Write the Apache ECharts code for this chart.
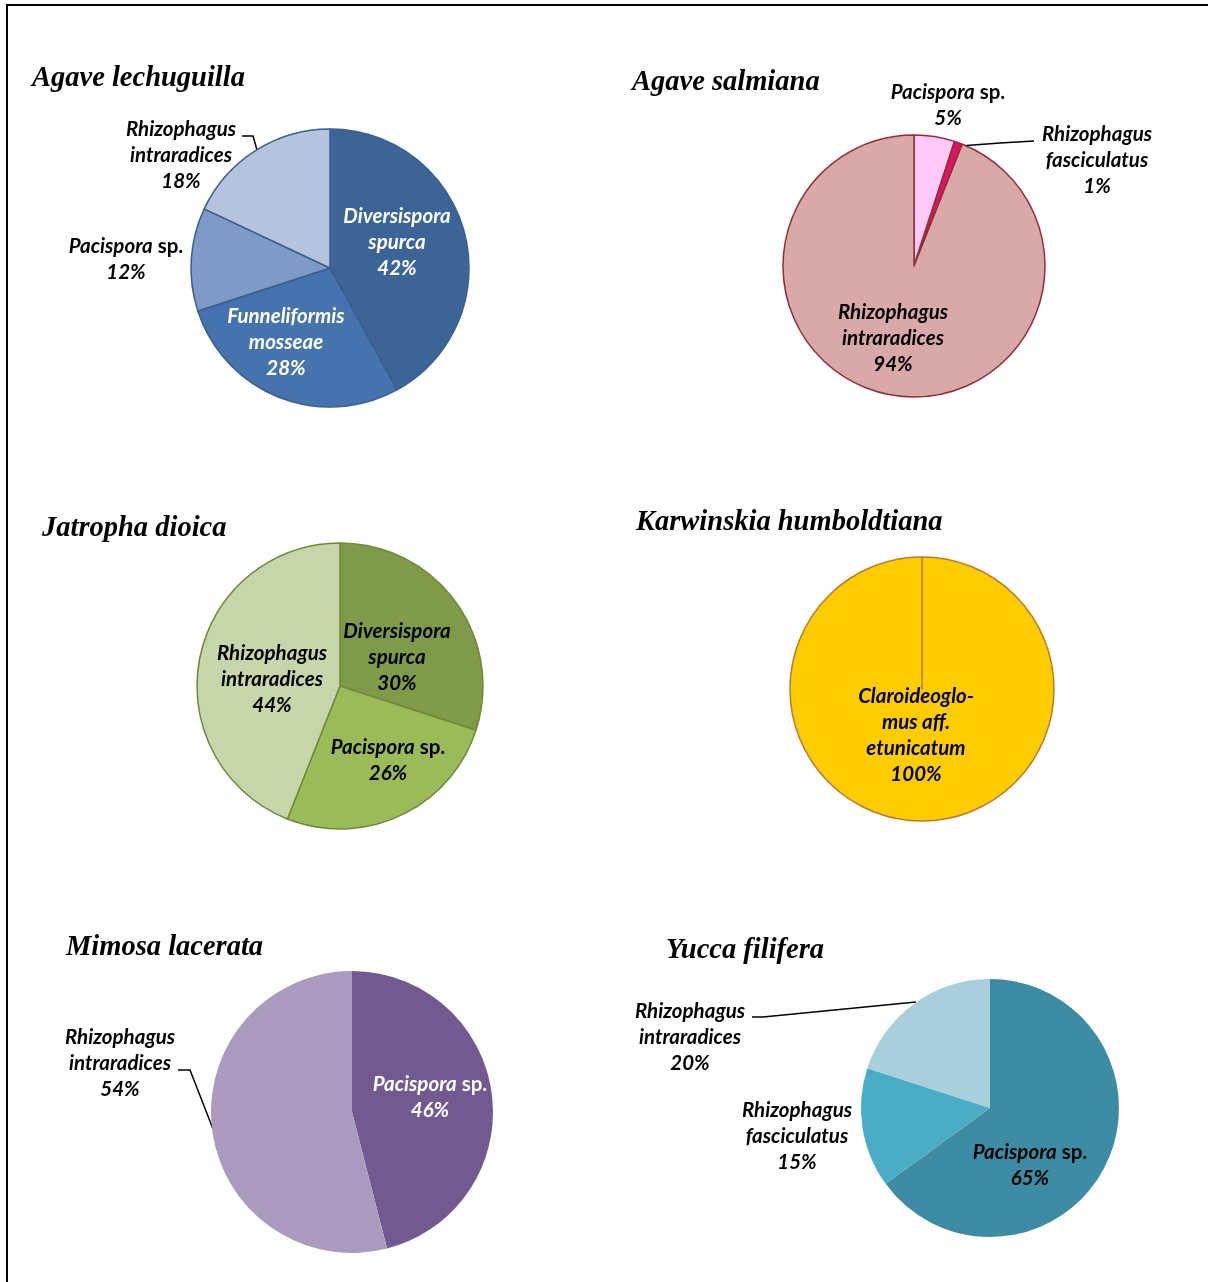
<!DOCTYPE html>
<html>
<head>
<meta charset="utf-8">
<script src="https://cdn.jsdelivr.net/npm/echarts@6/dist/echarts.min.js"></script>
<style>
  html, body { margin: 0; padding: 0; background: #fff; }
  #main { width: 1208px; height: 1282px; }
</style>
</head>
<body>
<div id="main"></div>
<script>
// data (clockwise from 12 o'clock)
const lechNames = ['Diversispora\nspurca', 'Funneliformis\nmosseae', 'Pacispora sp.', 'Rhizophagus\nintraradices']
const lechValues = [42, 28, 12, 18]

const salmNames = ['Pacispora sp.', 'Rhizophagus\nfasciculatus', 'Rhizophagus\nintraradices']
const salmValues = [5, 1, 94]

const jatrNames = ['Diversispora\nspurca', 'Pacispora sp.', 'Rhizophagus\nintraradices']
const jatrValues = [30, 26, 44]

const karwNames = ['Claroideoglo-\nmus aff.\netunicatum']
const karwValues = [100]

const mimoNames = ['Pacispora sp.', 'Rhizophagus\nintraradices']
const mimoValues = [46, 54]

const yuccNames = ['Pacispora sp.', 'Rhizophagus\nfasciculatus', 'Rhizophagus\nintraradices']
const yuccValues = [65, 15, 20]

const labelFont = 'Lato'
const titleFont = 'Liberation Serif'

// "Pacispora sp." -> italic genus, upright "sp."
function fmtLine(line){
    if(line.endsWith(' sp.')){
        return '{i|' + line.slice(0, -4) + '}{n| sp.}'
    }
    return '{i|' + line + '}'
}
function fmtLabel(p){
    let lines = p.name.split('\n').map(fmtLine)
    lines.push('{i|' + p.value + '%}')
    return lines.join('\n')
}

const rich = {
    i: { fontFamily: labelFont, fontWeight: 'bold', fontStyle: 'italic', fontSize: 20.5, lineHeight: 26 },
    n: { fontFamily: labelFont, fontWeight: 'bold', fontStyle: 'normal', fontSize: 20.5, lineHeight: 26 }
}

// one pie panel; labels = [[x, y, color, leaderPoints|null, outside?], ...]
function makePie(names, values, colors, center, radius, border, labels){
    let data = values.map(function(v, i){
        let lb = labels[i]
        return {
            name: names[i],
            value: v,
            itemStyle: { color: colors[i] },
            label: { color: lb[2], position: lb[4] ? 'outside' : 'inside' },
            labelLine: { show: !!lb[3] }
        }
    })
    return {
        type: 'pie',
        center: center,
        radius: radius,
        startAngle: 90,
        clockwise: true,
        avoidLabelOverlap: false,
        silent: true,
        animation: false,
        itemStyle: border ? { borderColor: border, borderWidth: 1.5 } : { borderWidth: 0 },
        label: { show: true, formatter: fmtLabel, rich: rich, align: 'center' },
        labelLine: { lineStyle: { color: '#000', width: 1.5 }, smooth: false },
        labelLayout: function(p){
            let lb = labels[p.dataIndex]
            if(!lb) return {}
            let out = { x: lb[0], y: lb[1], align: 'center', verticalAlign: 'middle' }
            if(lb[3]) out.labelLinePoints = lb[3]
            return out
        },
        data: data
    }
}

const series = [
    makePie(lechNames, lechValues, ['#3C6496', '#4672AD', '#7E9AC7', '#B5C3DD'], [330, 268], 139, '#3A5F8E', [
        [397, 242, '#fff', null, false],
        [286, 342, '#fff', null, false],
        [126, 259, '#000', null, true],
        [181, 155, '#000', [[257, 150], [253, 136], [242, 136]], true]
    ]),
    makePie(salmNames, salmValues, ['#FFC9F8', '#DE1462', '#D9A8A9'], [914, 266], 131, '#8E2F33', [
        [948, 105, '#000', null, true],
        [1097, 160, '#000', [[960, 146], [1000, 143], [1034, 141]], true],
        [893, 338, '#000', null, false]
    ]),
    makePie(jatrNames, jatrValues, ['#7F9A48', '#9BBB59', '#C6D6AA'], [340, 686], 143, '#70883C', [
        [397, 657, '#000', null, false],
        [388, 760, '#000', null, false],
        [272, 679, '#000', null, false]
    ]),
    makePie(karwNames, karwValues, ['#FFCC00'], [922, 689], 132, '#B97A2D', [
        [916, 735, '#000', null, false]
    ]),
    makePie(mimoNames, mimoValues, ['#725990', '#A99ABE'], [352, 1112], 141, null, [
        [430, 1097, '#fff', null, false],
        [120, 1063, '#000', [[213, 1129], [190, 1070], [178, 1070]], true]
    ]),
    makePie(yuccNames, yuccValues, ['#3D8CA4', '#4BACC6', '#A9CEDC'], [990, 1108], 129, null, [
        [1030, 1165, '#000', null, false],
        [797, 1136, '#000', null, true],
        [690, 1037, '#000', [[916, 1002], [763, 1017], [752, 1017]], true]
    ])
]

// Excel draws a seam from centre to 12 o'clock on a full pie: zero-width slice
series[3].data.push({ name: '', value: 0, label: { show: false }, labelLine: { show: false } })

const titles = [
    ['Agave lechuguilla', 32, 77],
    ['Agave salmiana', 632, 81],
    ['Jatropha dioica', 42, 527],
    ['Karwinskia humboldtiana', 636, 521],
    ['Mimosa lacerata', 66, 946],
    ['Yucca filifera', 666, 949]
]

let chart = echarts.init(document.getElementById('main'), null, { renderer: 'canvas' })
chart.setOption({
    backgroundColor: '#fff',
    animation: false,
    title: titles.map(function(t){
        return {
            text: t[0],
            left: t[1],
            top: t[2] - 13,
            padding: 0,
            textStyle: { fontFamily: titleFont, fontWeight: 'bold', fontStyle: 'italic', fontSize: 28.5, lineHeight: 30, color: '#000' }
        }
    }),
    // figure frame: open on the right, runs past the bottom edge
    graphic: [{
        type: 'rect',
        shape: { x: 7, y: 5, width: 1260, height: 1300 },
        style: { fill: 'none', stroke: '#000', lineWidth: 2 },
        silent: true
    }],
    series: series
})
</script>
</body>
</html>
